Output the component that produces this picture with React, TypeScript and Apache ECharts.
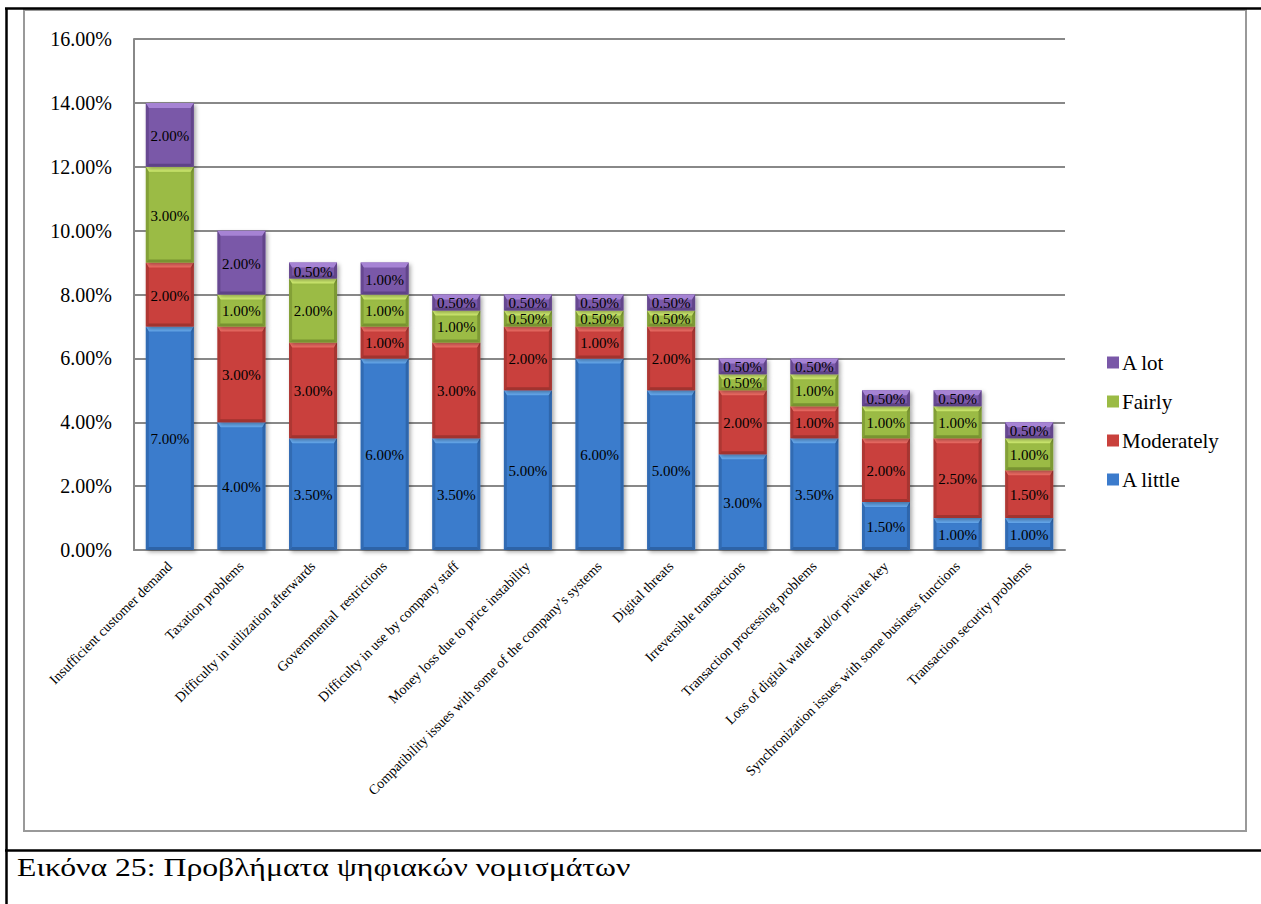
import React, { useEffect, useRef } from "react";
import * as echarts from "echarts";

// Problems reported with digital currencies, share of respondents (%)
const categories = [
  "Insufficient customer demand",
  "Taxation problems",
  "Difficulty in utilization afterwards",
  "Governmental  restrictions",
  "Difficulty in use by company staff",
  "Money loss due to price instability",
  "Compatibility issues with some of the company’s systems",
  "Digital threats",
  "Irreversible transactions",
  "Transaction processing problems",
  "Loss of digital wallet and/or private key",
  "Synchronization issues with some business functions",
  "Transaction security problems",
];

const aLittle = [7, 4, 3.5, 6, 3.5, 5, 6, 5, 3, 3.5, 1.5, 1, 1];
const moderately = [2, 3, 3, 1, 3, 2, 1, 2, 2, 1, 2, 2.5, 1.5];
const fairly = [3, 1, 2, 1, 1, 0.5, 0.5, 0.5, 0.5, 1, 1, 1, 1];
const aLot = [2, 2, 0.5, 1, 0.5, 0.5, 0.5, 0.5, 0.5, 0.5, 0.5, 0.5, 0.5];

const seriesNames = ["A little", "Moderately", "Fairly", "A lot"];
const seriesValues = [aLittle, moderately, fairly, aLot];

const yTicks = { min: 0, max: 16, interval: 2 };
const caption = "Εικόνα 25: Προβλήματα ψηφιακών νομισμάτων";

// main / light (top bevel) / dark (side & bottom bevel)
const palette = [
  { main: "#3b7bcc", light: "#66aaf0", dark: "#2a5d9e" },
  { main: "#c9413c", light: "#f06c64", dark: "#97302c" },
  { main: "#9bbb45", light: "#d2ef70", dark: "#6f8a2c" },
  { main: "#7a58a8", light: "#a683d4", dark: "#583d7e" },
];

const FONT = "Liberation Serif";

const fmt = (v: number) => v.toFixed(2) + "%";

function buildStacks() {
  const base = categories.map(() => 0);
  return seriesValues.map((vals) =>
    vals.map((v, i) => {
      const row = [i, base[i], base[i] + v, v];
      base[i] += v;
      return row;
    })
  );
}

function makeRenderItem(colors: { main: string; light: string; dark: string }) {
  return (params: any, api: any) => {
    const idx = api.value(0);
    const lo = api.value(1);
    const hi = api.value(2);
    const val = api.value(3);
    const pLo = api.coord([idx, lo]);
    const pHi = api.coord([idx, hi]);
    const band = api.size([1, 0])[0];
    const w = band * 0.67;
    const x = pLo[0] - w / 2;
    const y = pHi[1];
    const h = pLo[1] - pHi[1];
    const bt = Math.min(5, h / 2.5);
    const bs = Math.min(3, h / 3);
    const bb = Math.min(3, h / 3);
    return {
      type: "group",
      children: [
        {
          type: "rect",
          shape: { x, y, width: w, height: h },
          style: {
            fill: colors.main,
            shadowBlur: 4,
            shadowOffsetX: 2,
            shadowOffsetY: 2,
            shadowColor: "rgba(0,0,0,0.35)",
          },
        },
        {
          type: "polygon",
          shape: {
            points: [
              [x, y],
              [x + w, y],
              [x + w - bs, y + bt],
              [x + bs, y + bt],
            ],
          },
          style: { fill: colors.light },
        },
        {
          type: "polygon",
          shape: {
            points: [
              [x, y],
              [x + bs, y + bt],
              [x + bs, y + h - bb],
              [x, y + h],
            ],
          },
          style: { fill: colors.dark, opacity: 0.55 },
        },
        {
          type: "polygon",
          shape: {
            points: [
              [x + w, y],
              [x + w - bs, y + bt],
              [x + w - bs, y + h - bb],
              [x + w, y + h],
            ],
          },
          style: { fill: colors.dark, opacity: 0.7 },
        },
        {
          type: "polygon",
          shape: {
            points: [
              [x, y + h],
              [x + bs, y + h - bb],
              [x + w - bs, y + h - bb],
              [x + w, y + h],
            ],
          },
          style: { fill: colors.dark, opacity: 0.8 },
        },
        {
          type: "text",
          x: x + w / 2,
          y: y + h / 2 + 1,
          style: {
            text: fmt(val),
            fill: "#000",
            fontSize: 15,
            fontFamily: FONT,
            align: "center",
            verticalAlign: "middle",
          },
        },
      ],
    };
  };
}

export default function App() {
  const ref = useRef<HTMLDivElement>(null);

  useEffect(() => {
    if (!ref.current) return;
    const chart = echarts.init(ref.current, null, { renderer: "svg" });
    const stacks = buildStacks();

    chart.setOption({
      animation: false,
      backgroundColor: "#ffffff",
      textStyle: { fontFamily: FONT },
      grid: { left: 134, top: 39, right: 196, bottom: 354, containLabel: false },
      legend: {
        orient: "vertical",
        left: 1102,
        top: 347,
        itemWidth: 12,
        itemHeight: 12,
        itemGap: 18,
        icon: "rect",
        data: [...seriesNames].reverse(),
        textStyle: { fontSize: 21, fontFamily: FONT, color: "#000", padding: [0, 0, 0, -2] },
      },
      xAxis: {
        type: "category",
        data: categories,
        axisLine: { show: true, lineStyle: { color: "#888", width: 2 } },
        axisTick: { show: false },
        axisLabel: {
          rotate: 45,
          interval: 0,
          margin: 14,
          fontSize: 14,
          fontFamily: FONT,
          color: "#000",
        },
      },
      yAxis: {
        type: "value",
        min: yTicks.min,
        max: yTicks.max,
        interval: yTicks.interval,
        axisLine: { show: true, lineStyle: { color: "#888", width: 2 } },
        axisTick: { show: false },
        splitLine: { lineStyle: { color: "#888", width: 2 } },
        axisLabel: {
          formatter: (v: number) => fmt(v),
          fontSize: 20,
          fontFamily: FONT,
          color: "#000",
          margin: 22,
        },
      },
      series: seriesNames.map((name, si) => ({
        type: "custom",
        name,
        itemStyle: { color: palette[si].main },
        encode: { x: 0, y: [1, 2] },
        data: stacks[si],
        renderItem: makeRenderItem(palette[si]),
        z: 3,
      })),
      graphic: [
        // chart frame
        {
          type: "rect",
          shape: { x: 24, y: 10, width: 1222, height: 821 },
          style: { fill: "none", stroke: "#999", lineWidth: 2 },
          silent: true,
        },
        // outer document borders
        {
          type: "line",
          shape: { x1: 5, y1: 8.5, x2: 1261, y2: 8.5 },
          style: { stroke: "#000", lineWidth: 2.5 },
          silent: true,
        },
        {
          type: "line",
          shape: { x1: 6.5, y1: 8, x2: 6.5, y2: 904 },
          style: { stroke: "#000", lineWidth: 2.5 },
          silent: true,
        },
        {
          type: "line",
          shape: { x1: 5, y1: 850.5, x2: 1261, y2: 850.5 },
          style: { stroke: "#000", lineWidth: 2.5 },
          silent: true,
        },
        {
          type: "text",
          x: 17,
          y: 868,
          scaleX: 1.27,
          style: {
            text: caption,
            fontSize: 25,
            fontFamily: FONT,
            fill: "#000",
            verticalAlign: "middle",
          },
        },
      ],
    });

    return () => chart.dispose();
  }, []);

  return (
    <div
      ref={ref}
      style={{ position: "fixed", left: 0, top: 0, width: 1261, height: 904, background: "#fff" }}
    />
  );
}
